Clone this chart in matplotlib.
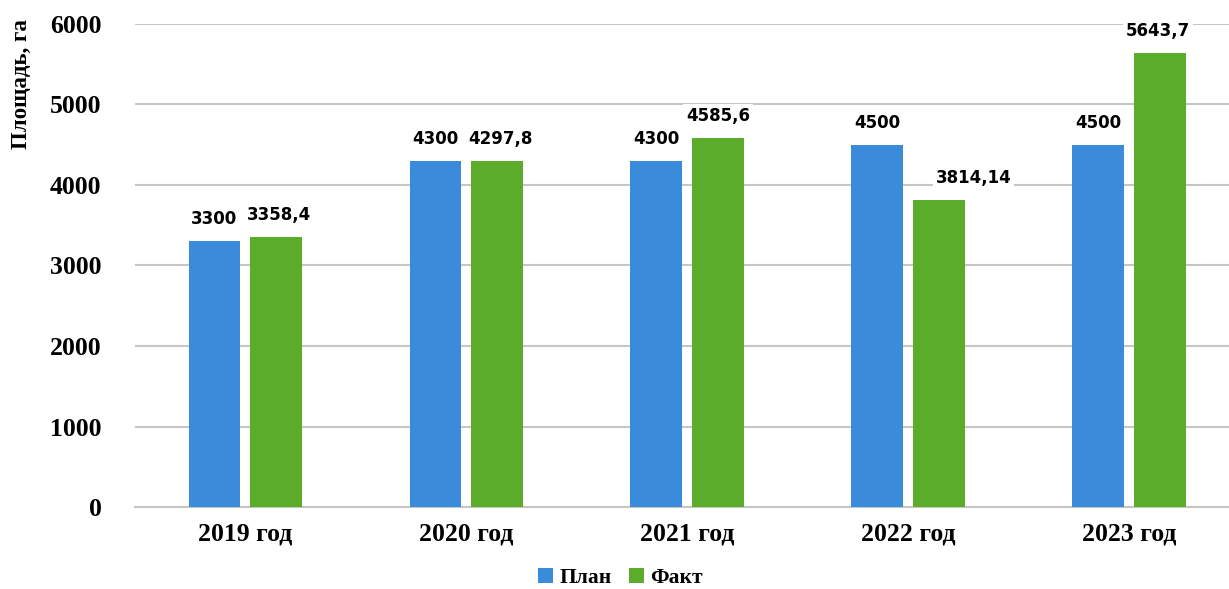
import matplotlib
matplotlib.use("Agg")
import matplotlib.pyplot as plt
import numpy as np

categories = ["2019 год", "2020 год", "2021 год", "2022 год", "2023 год"]
plan = [3300, 4300, 4300, 4500, 4500]
fact = [3358.4, 4297.8, 4585.6, 3814.14, 5643.7]
plan_labels = ["3300", "4300", "4300", "4500", "4500"]
fact_labels = ["3358,4", "4297,8", "4585,6", "3814,14", "5643,7"]
yticks = [0, 1000, 2000, 3000, 4000, 5000, 6000]

blue = "#3a8bd9"
green = "#5bac2a"
serif = "Liberation Serif"

fig = plt.figure(figsize=(12.29, 5.89), dpi=100)
ax = fig.add_axes([0.1098, 0.1392, 0.899, 0.8201])

x = np.arange(len(categories))
w = 0.235
off = 0.14
ax.bar(x - off, plan, w, color=blue, label="План", zorder=3)
ax.bar(x + off, fact, w, color=green, label="Факт", zorder=3)

ax.set_xlim(-0.5, len(categories) - 0.5)
ax.set_ylim(0, 6000)
ax.set_yticks(yticks)
ax.set_yticklabels([str(t) for t in yticks], fontfamily=serif, fontweight="bold", fontsize=18.5)
ax.set_xticks(x)
ax.set_xticklabels(categories, fontfamily=serif, fontweight="bold", fontsize=18.5)
ax.tick_params(axis="both", length=0)
ax.tick_params(axis="y", pad=24)
ax.tick_params(axis="x", pad=11)

ax.grid(axis="y", color="#c6c6c6", linewidth=1.5, zorder=0)
for s in ["top", "right", "left"]:
    ax.spines[s].set_visible(False)
ax.spines["bottom"].set_color("#c6c6c6")
ax.spines["bottom"].set_linewidth(1.5)

ax.set_ylabel("Площадь, га", fontfamily=serif, fontweight="bold", fontsize=16.5)
ax.yaxis.set_label_coords(-0.093, 0.875)

box = dict(facecolor="white", edgecolor="none", pad=2)
for i, (v, t) in enumerate(zip(plan, plan_labels)):
    ax.annotate(t, (x[i] - off, v), xytext=(0, 22), textcoords="offset pixels",
                ha="center", va="center", fontsize=12, fontweight="bold", bbox=box, zorder=4)
fact_dx = [3, 3, 0, 34, -2]
for i, (v, t) in enumerate(zip(fact, fact_labels)):
    ax.annotate(t, (x[i] + off, v), xytext=(fact_dx[i], 22), textcoords="offset pixels",
                ha="center", va="center", fontsize=12, fontweight="bold", bbox=box, zorder=4)

fig.legend(loc="center", bbox_to_anchor=(0.505, 0.018), ncol=2, frameon=False,
           prop={"family": serif, "weight": "bold", "size": 15.5},
           handlelength=0.7, handleheight=0.7, handletextpad=0.3, columnspacing=0.8)

fig.savefig("out.png", dpi=100)
